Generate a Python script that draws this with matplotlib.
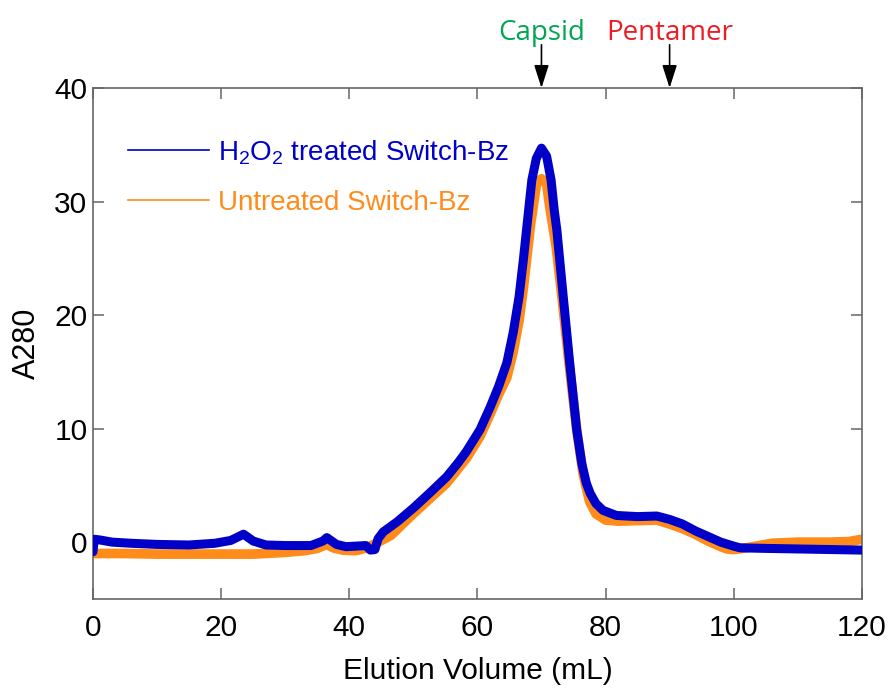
import matplotlib
matplotlib.use('Agg')
import matplotlib.pyplot as plt
from matplotlib.lines import Line2D
import numpy as np

# H2O2 treated trace (blue)
x_h2o2 = [0, 0.2, 1, 3, 6, 10, 15, 19, 21.5, 23.5, 25, 27, 30, 34, 35.9, 36.5, 38, 39.5, 42.6,
          43.3, 44.0, 44.5, 45.3, 47.5, 50.0, 52.5, 55.2, 57.0, 58.3, 60.4, 62.0, 63.3, 64.6,
          65.6, 66.5, 67.2, 67.8, 68.5, 69.2, 70.0, 70.8, 71.5, 72.0, 72.4, 73.4, 74.4, 75.5,
          76.3, 77.0, 77.6, 78.5, 79.6, 81.7, 85, 88, 90, 92, 94, 96, 98, 100, 101, 105, 110,
          115, 120]
y_h2o2 = [-0.85, 0.25, 0.2, 0.0, -0.1, -0.2, -0.25, -0.1, 0.15, 0.7, 0.1, -0.25, -0.3, -0.3, 0.1,
          0.4, -0.2, -0.4, -0.3, -0.7, -0.65, 0.3, 0.9, 1.8, 3.0, 4.3, 5.75, 7.0, 8.0, 9.9, 11.9,
          13.7, 15.8, 18.5, 21.6, 25.0, 28.2, 31.9, 33.8, 34.7, 34.0, 31.9, 29.2, 27.5, 21.6,
          15.8, 9.9, 6.9, 5.2, 4.3, 3.4, 2.8, 2.35, 2.25, 2.3, 2.0, 1.6, 1.0, 0.5, 0.0, -0.35,
          -0.5, -0.55, -0.6, -0.65, -0.7]

# untreated trace (orange)
x_untr = [0, 5, 10, 20, 25, 30, 33, 35, 36.5, 37.5, 39, 41, 42.8, 44.5, 46.5, 50.0, 52.5, 55.2,
          58.3, 60.4, 62.0, 63.3, 64.6, 65.6, 66.5, 67.2, 67.8, 68.3, 68.7, 69.2, 70.0, 70.8,
          71.3, 72.3, 73.2, 74.3, 75.5, 76.5, 77.5, 78.5, 80.0, 82, 85, 88, 90, 92, 94, 96, 98,
          99, 100, 102, 104, 106, 110, 115, 118, 120]
y_untr = [-1.0, -1.0, -1.05, -1.05, -1.05, -0.9, -0.75, -0.55, -0.2, -0.5, -0.7, -0.75, -0.5, 0.0,
          0.6, 2.5, 3.8, 5.2, 7.4, 9.3, 11.3, 13.0, 14.5, 16.8, 19.5, 22.5, 25.5, 28.0, 29.5,
          31.5, 32.0, 31.6, 29.5, 26.0, 21.6, 15.8, 9.9, 6.0, 3.6, 2.5, 1.95, 1.85, 1.9, 1.95,
          1.6, 1.2, 0.7, 0.1, -0.4, -0.6, -0.65, -0.5, -0.3, -0.1, 0.0, 0.0, 0.05, 0.25]

labels = [r'H$_2$O$_2$ treated Switch-Bz', 'Untreated Switch-Bz']
markers = [(70, 'Capsid', '#00a651'), (90, 'Pentamer', '#ed1c24')]

blue = '#0000c8'
orange = '#ff8c1a'
spine_c = '#666666'

plt.rcParams['font.family'] = ['Liberation Sans', 'DejaVu Sans']
plt.rcParams['mathtext.default'] = 'regular'

fig = plt.figure(figsize=(8.94, 6.9), dpi=100)
ax = fig.add_axes([0.104, 0.132, 0.860, 0.7405])

ax.plot(x_untr, y_untr, color=orange, lw=7.0, solid_joinstyle='round', solid_capstyle='round', zorder=2)
ax.plot(x_h2o2, y_h2o2, color=blue, lw=6.5, solid_joinstyle='round', solid_capstyle='round', zorder=3)

ax.set_xlim(0, 120)
ax.set_ylim(-5, 40)
ax.set_xticks(np.arange(0, 121, 20))
ax.set_yticks(np.arange(0, 41, 10))

for s in ax.spines.values():
    s.set_color(spine_c)
    s.set_linewidth(1.2)
ax.tick_params(direction='in', length=8, width=1.1, color=spine_c, top=True, right=True,
               labelsize=21.5)
ax.tick_params(axis='x', pad=11)
ax.tick_params(axis='y', pad=4)

ax.set_xlabel('Elution Volume (mL)', fontsize=21.5, labelpad=11)
ax.set_ylabel('A280', fontsize=22, labelpad=9)

handles = [Line2D([], [], color=blue, lw=1.2), Line2D([], [], color=orange, lw=1.2)]
leg = ax.legend(handles, labels, loc='upper left', bbox_to_anchor=(0.0455, 0.902), frameon=False,
                fontsize=20, handlelength=2.9, handletextpad=0.35, labelspacing=0.85,
                borderaxespad=0, borderpad=0)
for txt, c in zip(leg.get_texts(), [blue, orange]):
    txt.set_color(c)

for xv, name, c in markers:
    ax.annotate('', xy=(xv, 40), xytext=(xv, 43.8), annotation_clip=False,
                arrowprops=dict(arrowstyle='-|>,head_length=1.0,head_width=0.32', mutation_scale=14,
                                color='black', lw=1.2, shrinkA=0, shrinkB=0))
    ax.text(xv, 44.25, name, color=c, fontsize=20, family=['Open Sans', 'DejaVu Sans'],
            ha='center', va='baseline', clip_on=False)

plt.savefig('out.png', dpi=100)
